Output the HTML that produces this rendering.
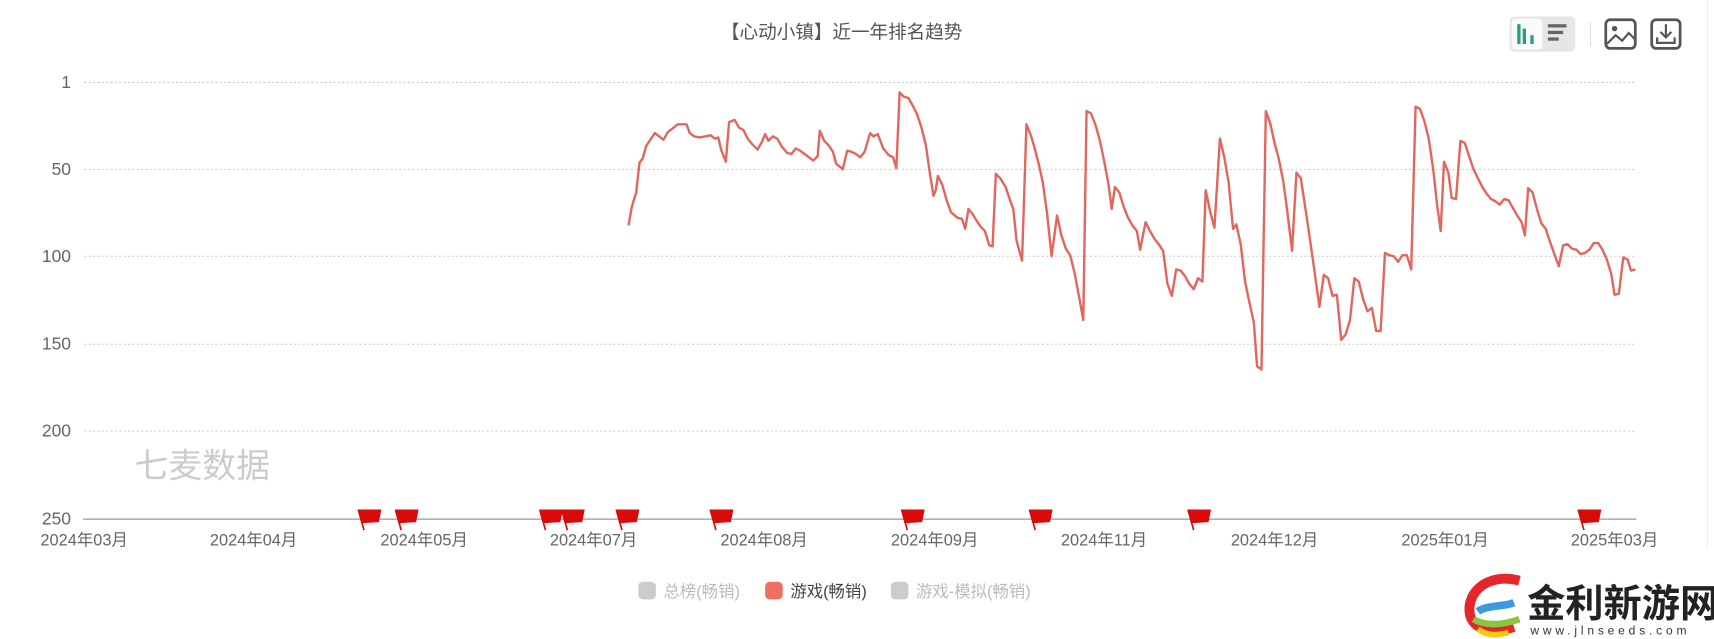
<!DOCTYPE html>
<html><head><meta charset="utf-8"><style>
html,body{margin:0;padding:0;background:#fff;overflow:hidden}
svg{display:block}
text{font-family:"Liberation Sans","Noto Sans CJK SC",sans-serif}
</style></head><body>
<svg width="1714" height="639" viewBox="0 0 1568 581" preserveAspectRatio="none" xmlns="http://www.w3.org/2000/svg">
<rect width="1568" height="581" fill="#fff"/>
<text x="770" y="35" font-size="17" fill="#555" text-anchor="middle">【心动小镇】近一年排名趋势</text>
<rect x="1381" y="15" width="60" height="32" rx="4" fill="#e6e6e6"/>
<rect x="1383" y="17" width="28" height="28" rx="3" fill="#fafafa"/>
<rect x="1388" y="22" width="3" height="18" fill="#2a9d7f"/><rect x="1393" y="26" width="3" height="14" fill="#2a9d7f"/><rect x="1400" y="32" width="3" height="8" fill="#2a9d7f"/>
<rect x="1416" y="22" width="17" height="3" fill="#666"/><rect x="1416" y="28" width="14" height="3" fill="#666"/><rect x="1416" y="34" width="10" height="3" fill="#666"/>
<line x1="1455" y1="20" x2="1455" y2="42" stroke="#ddd"/>
<rect x="1469" y="18" width="27" height="26" rx="4" fill="none" stroke="#555" stroke-width="2.5"/>
<circle cx="1477" cy="26" r="2.5" fill="#555"/><polyline points="1470,40 1478,32 1484,37 1490,30 1496,36" fill="none" stroke="#555" stroke-width="2"/>
<rect x="1511" y="18" width="26" height="26" rx="4" fill="none" stroke="#555" stroke-width="2.5"/>
<polyline points="1524,22 1524,34" fill="none" stroke="#555" stroke-width="2"/>
<polyline points="1519,29 1524,34 1529,29" fill="none" stroke="#555" stroke-width="2"/>
<polyline points="1516,34 1516,39 1532,39 1532,34" fill="none" stroke="#555" stroke-width="2"/>
<line x1="1562" y1="0" x2="1562" y2="500" stroke="#eee"/>
<g stroke="#ccc" stroke-dasharray="2,2" stroke-width="1">
<line x1="77" y1="75" x2="1497" y2="75"/><line x1="77" y1="154" x2="1497" y2="154"/>
<line x1="77" y1="233" x2="1497" y2="233"/><line x1="77" y1="313" x2="1497" y2="313"/>
<line x1="77" y1="392" x2="1497" y2="392"/>
</g>
<line x1="76" y1="472" x2="1497" y2="472" stroke="#999" stroke-width="1.2"/>
<g font-size="16" fill="#666" text-anchor="end">
<text x="65" y="80">1</text><text x="65" y="159">50</text><text x="65" y="238">100</text>
<text x="65" y="318">150</text><text x="65" y="397">200</text><text x="65" y="477">250</text>
</g>
<g font-size="15" fill="#666" text-anchor="middle">
<text x="77" y="496">2024年03月</text><text x="232" y="496">2024年04月</text><text x="388" y="496">2024年05月</text>
<text x="543" y="496">2024年07月</text><text x="699" y="496">2024年08月</text><text x="855" y="496">2024年09月</text>
<text x="1010" y="496">2024年11月</text><text x="1166" y="496">2024年12月</text><text x="1322" y="496">2025年01月</text>
<text x="1477" y="496">2025年03月</text>
</g>
<text x="123" y="434" font-size="31" fill="#ccc">七麦数据</text>
<polyline fill="none" stroke="#e0675e" stroke-width="2.2" stroke-linejoin="round" points="575,205 578,188 582,175 585,148 588,144 591,133 595,127 599,121 603,124 607,127 611,120 615,117 620,113 628,113 631,121 635,124 640,125 645,124 650,123 654,126 657,125 660,137 664,147 667,111 672,109 676,116 680,118 684,126 688,131 693,136 697,129 700,122 703,128 707,124 711,126 715,133 720,139 724,140 728,135 732,137 736,140 740,143 744,146 748,142 750,119 754,128 758,132 762,138 765,149 769,152 771,154 775,137 779,138 783,140 787,143 791,138 796,121 799,124 803,122 808,135 813,141 817,143 820,153 823,84 827,88 831,89 835,96 839,104 843,116 847,132 851,160 854,178 856,173 858,160 862,168 866,182 870,193 876,198 880,199 883,208 886,190 890,195 893,200 897,206 901,210 905,223 908,224 911,158 915,162 920,170 924,182 927,190 930,219 935,237 939,113 943,123 946,133 950,148 954,166 958,195 962,233 967,196 971,214 975,226 979,232 983,248 987,269 991,291 994,101 998,103 1002,113 1006,127 1010,146 1014,167 1017,190 1020,170 1024,175 1028,188 1032,198 1036,205 1040,210 1043,227 1048,202 1052,210 1056,217 1060,222 1064,228 1068,258 1072,269 1076,245 1080,246 1084,251 1088,258 1092,263 1096,253 1100,256 1103,173 1107,192 1111,207 1116,126 1120,143 1124,166 1128,208 1131,204 1135,222 1139,256 1143,275 1147,293 1150,333 1154,336 1158,101 1162,112 1166,130 1170,145 1174,165 1178,195 1182,228 1186,157 1190,162 1194,188 1198,215 1202,243 1207,279 1211,250 1215,253 1219,269 1223,268 1227,309 1231,304 1235,291 1239,253 1243,256 1247,272 1251,283 1255,280 1259,301 1263,301 1267,230 1271,232 1275,233 1279,238 1283,232 1287,232 1291,245 1295,97 1299,99 1303,110 1307,126 1311,153 1315,189 1318,210 1321,147 1325,157 1328,180 1332,181 1336,128 1340,130 1344,142 1348,154 1352,162 1356,170 1360,176 1364,181 1368,183 1372,186 1376,181 1380,182 1384,189 1388,196 1392,202 1395,214 1398,171 1402,175 1406,190 1410,203 1414,208 1418,220 1422,231 1426,242 1430,223 1434,222 1438,226 1442,227 1446,231 1450,230 1454,227 1458,221 1462,221 1466,227 1470,236 1474,249 1477,268 1481,267 1485,234 1489,236 1492,246 1496,245"/>
<g fill="#d90a0a" stroke="#d90a0a" stroke-width="1.5">
<g transform="translate(328,464)"><path d="M0,0 L20,0 L18,10 L3,11 Z"/><line x1="0" y1="0" x2="5" y2="18"/></g>
<g transform="translate(362,464)"><path d="M0,0 L20,0 L18,10 L3,11 Z"/><line x1="0" y1="0" x2="5" y2="18"/></g>
<g transform="translate(494,464)"><path d="M0,0 L20,0 L18,10 L3,11 Z"/><line x1="0" y1="0" x2="5" y2="18"/></g>
<g transform="translate(514,464)"><path d="M0,0 L20,0 L18,10 L3,11 Z"/><line x1="0" y1="0" x2="5" y2="18"/></g>
<g transform="translate(564,464)"><path d="M0,0 L20,0 L18,10 L3,11 Z"/><line x1="0" y1="0" x2="5" y2="18"/></g>
<g transform="translate(650,464)"><path d="M0,0 L20,0 L18,10 L3,11 Z"/><line x1="0" y1="0" x2="5" y2="18"/></g>
<g transform="translate(825,464)"><path d="M0,0 L20,0 L18,10 L3,11 Z"/><line x1="0" y1="0" x2="5" y2="18"/></g>
<g transform="translate(942,464)"><path d="M0,0 L20,0 L18,10 L3,11 Z"/><line x1="0" y1="0" x2="5" y2="18"/></g>
<g transform="translate(1087,464)"><path d="M0,0 L20,0 L18,10 L3,11 Z"/><line x1="0" y1="0" x2="5" y2="18"/></g>
<g transform="translate(1444,464)"><path d="M0,0 L20,0 L18,10 L3,11 Z"/><line x1="0" y1="0" x2="5" y2="18"/></g>
</g>
<rect x="584" y="529" width="16" height="16" rx="4" fill="#ccc"/>
<text x="607" y="543" font-size="15" fill="#bbb">总榜(畅销)</text>
<rect x="700" y="529" width="16" height="16" rx="4" fill="#ef6f63"/>
<text x="723" y="543" font-size="15" fill="#444">游戏(畅销)</text>
<rect x="815" y="529" width="16" height="16" rx="4" fill="#ccc"/>
<text x="838" y="543" font-size="15" fill="#bbb">游戏-模拟(畅销)</text>
<path d="M1390,528 C1360,520 1340,540 1345,560 C1350,575 1370,575 1385,570" fill="none" stroke="#e5262a" stroke-width="9"/>
<path d="M1352,556 C1360,550 1375,552 1385,548" fill="none" stroke="#3c9be0" stroke-width="7"/>
<path d="M1348,563 C1360,570 1375,568 1390,563" fill="none" stroke="#8cc63f" stroke-width="6"/>
<path d="M1352,572 C1360,578 1370,578 1380,575" fill="none" stroke="#f6c90e" stroke-width="5"/>
<text x="1397" y="561" font-size="35" font-weight="bold" fill="#222" font-family="Liberation Serif, Noto Serif CJK SC, serif">金利新游网</text>
<text x="1400" y="577" font-size="11" fill="#333" letter-spacing="3.5">www.jlnseeds.com</text>
</svg>
</body></html>
